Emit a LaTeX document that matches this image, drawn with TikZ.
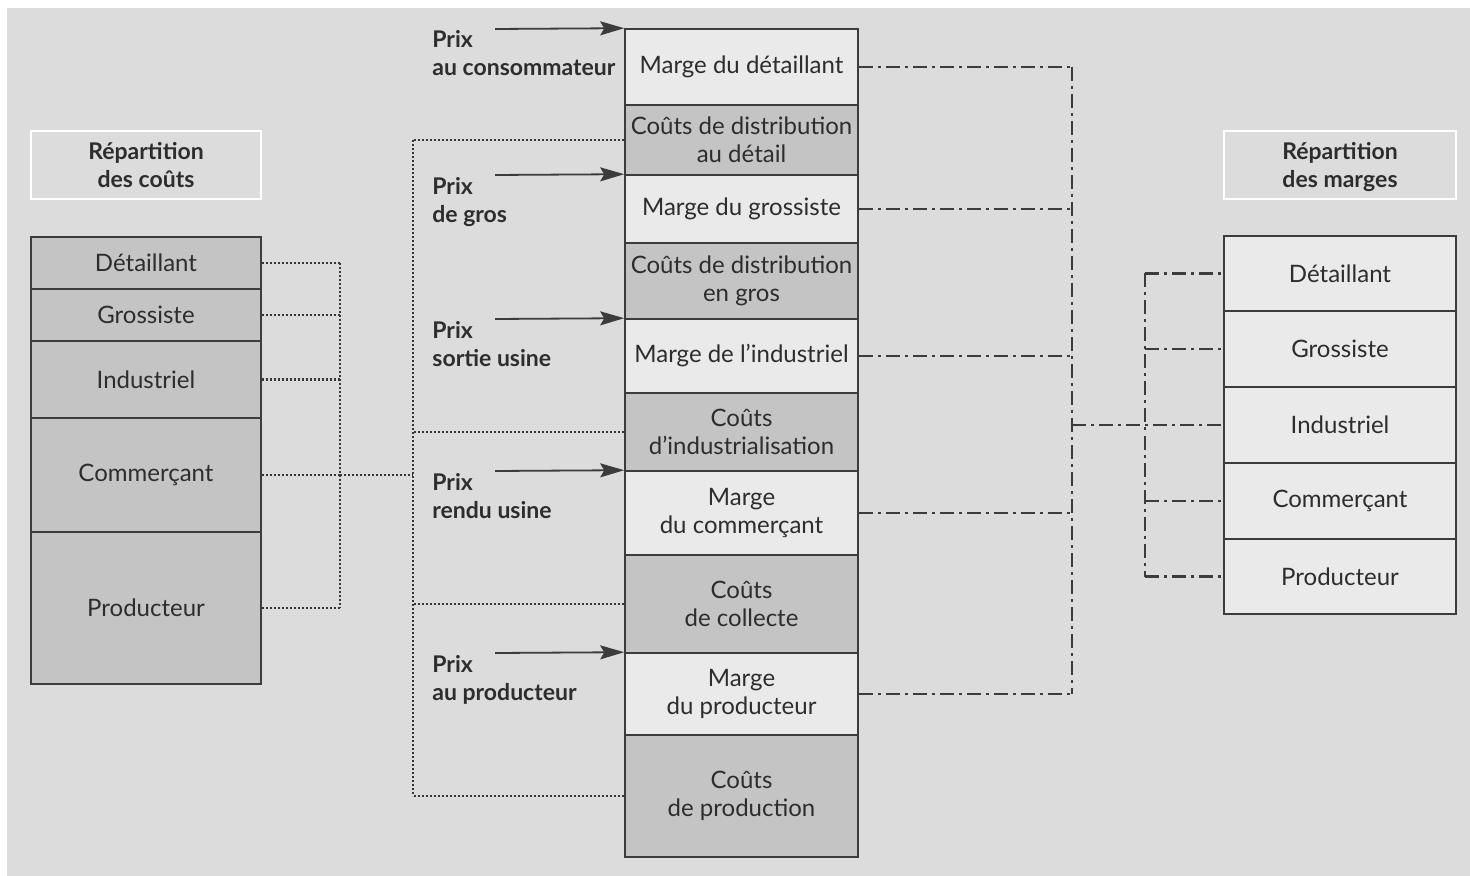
\documentclass[tikz,border=0pt]{standalone}
\usepackage{fontspec}
\setmainfont{Lato}
\usetikzlibrary{arrows.meta}
\definecolor{bgc}{RGB}{220,220,220}
\definecolor{darkc}{RGB}{196,196,196}
\definecolor{lightc}{RGB}{234,234,234}
\definecolor{linec}{RGB}{60,60,60}
\definecolor{textc}{RGB}{45,45,45}
\tikzset{
  box/.style={draw=linec, line width=0.8pt, inner sep=0pt, align=center,
    text=textc, font=\fontsize{12}{14}\selectfont},
  darkbox/.style={box, fill=darkc},
  lightbox/.style={box, fill=lightc},
  midw/.style={minimum width=116.5pt},
  leftw/.style={minimum width=115pt},
  rightw/.style={minimum width=116pt},
  titlebox/.style={draw=white, line width=1pt, inner sep=0pt, align=center,
    text=textc, minimum height=34pt, font=\bfseries\fontsize{11.5}{14}\selectfont},
  prixlab/.style={anchor=north west, inner sep=0pt, align=left, text=textc,
    font=\bfseries\fontsize{11.5}{14}\selectfont},
  dotl/.style={draw=linec!90!black, line width=1.2pt, dash pattern={on 0.9pt off 1.1pt}},
  ddl/.style={draw=linec, line width=1.1pt, dash pattern={on 7pt off 2.5pt on 1.5pt off 2.5pt}},
  arr/.style={draw=linec, line width=0.9pt, -{Stealth[length=12pt,width=7pt,inset=2pt]}}
}
\begin{document}
\begin{tikzpicture}[x=0.5pt,y=-0.5pt]
\useasboundingbox (0,0) rectangle (1470,876);
\fill[bgc] (7,8) rectangle (1470,876);

% titles
\node[titlebox, leftw] (tl) at (146,165) {Répartition\\des coûts};
\node[titlebox, rightw, minimum height=34pt] (tr) at (1340,165) {\raisebox{0pt}[\height][0pt]{}Répartition\\des mar\raisebox{0pt}[\height][0pt]{g}es};

% left column
\node[darkbox, leftw, minimum height=26pt] (l1) at (146,263) {Détaillant};
\node[darkbox, leftw, minimum height=26pt] (l2) at (146,315) {Grossiste};
\node[darkbox, leftw, minimum height=38.5pt] (l3) at (146,379.5) {Industriel};
\node[darkbox, leftw, minimum height=57pt] (l4) at (146,475) {Commerçant};
\node[darkbox, leftw, minimum height=76pt] (l5) at (146,608) {Producteur};

% middle stack
\node[lightbox, midw, minimum height=38pt] (md) at (741.5,67) {Marge du détaillant};
\node[darkbox, midw, minimum height=35pt] (cdd) at (741.5,140) {Coûts de distribution\\au détail};
\node[lightbox, midw, minimum height=34pt] (mg) at (741.5,209) {Marge du grossiste};
\node[darkbox, midw, minimum height=38pt] (cdg) at (741.5,281) {Coûts de distribution\\en gros};
\node[lightbox, midw, minimum height=37pt] (mi) at (741.5,356) {Marge de l’industriel};
\node[darkbox, midw, minimum height=39pt] (ci) at (741.5,432) {Coûts\\d’industrialisation};
\node[lightbox, midw, minimum height=42pt] (mc) at (741.5,513) {Marge\\du commerçant};
\node[darkbox, midw, minimum height=49pt] (cc) at (741.5,604) {Coûts\\de collecte};
\node[lightbox, midw, minimum height=41pt] (mp) at (741.5,694) {Marge\\du producteur};
\node[darkbox, midw, minimum height=61pt] (cp) at (741.5,796) {Coûts\\de production};

% right column
\node[lightbox, rightw, minimum height=37.5pt] (r1) at (1340,273.5) {Détaillant};
\node[lightbox, rightw, minimum height=38pt] (r2) at (1340,349) {Grossiste};
\node[lightbox, rightw, minimum height=38pt] (r3) at (1340,425) {Industriel};
\node[lightbox, rightw, minimum height=38pt] (r4) at (1340,501) {Commerçant};
\node[lightbox, rightw, minimum height=37.5pt] (r5) at (1340,576.5) {Producteur};

% price labels and arrows
\node[prixlab] (p1) at (432,30) {Prix\\au consommateur};
\node[prixlab] (p2) at (432,177) {Prix\\de gros};
\node[prixlab] (p3) at (432,321) {Prix\\sortie usine};
\node[prixlab] (p4) at (432,473) {Prix\\rendu usine};
\node[prixlab] (p5) at (432,655) {Prix\\au producteur};
\coordinate (a1) at (495,29);
\coordinate (a2) at (495,175);
\coordinate (a3) at (495,319);
\coordinate (a4) at (495,471);
\coordinate (a5) at (495,653);
\draw[arr] (a1) -- (md.north west);
\draw[arr] (a2) -- (mg.north west);
\draw[arr] (a3) -- (mi.north west);
\draw[arr] (a4) -- (mc.north west);
\draw[arr] (a5) -- (mp.north west);

% left dotted bracket
\coordinate (lbx) at (340,0);
\coordinate (mbx) at (413,0);
\foreach \n in {l1,l2,l3,l4,l5} {
  \draw[dotl] (\n.east) -- (\n.east -| lbx);
}
\draw[dotl] (l1.east -| lbx) -- (l5.east -| lbx);
\draw[dotl] (l4.east -| lbx) -- (l4.east -| mbx);

% middle dotted bracket
\foreach \n in {cdd,ci,cc,cp} {
  \draw[dotl] (\n.west) -- (\n.west -| mbx);
}
\draw[dotl] (cdd.west -| mbx) -- (cp.west -| mbx);

% right dash-dot brackets
\coordinate (rbx) at (1072,0);
\coordinate (rcx) at (1145,0);
\foreach \n in {md,mg,mi,mc,mp} {
  \draw[ddl] (\n.east) -- (\n.east -| rbx);
}
\draw[ddl] (md.east -| rbx) -- (mp.east -| rbx);
\draw[ddl] (r3.west -| rbx) -- (r3.west);
\foreach \n in {r1,r2,r4,r5} {
  \draw[ddl] (\n.west -| rcx) -- (\n.west);
}
\draw[ddl] (r1.west -| rcx) -- (r5.west -| rcx);
\end{tikzpicture}
\end{document}
